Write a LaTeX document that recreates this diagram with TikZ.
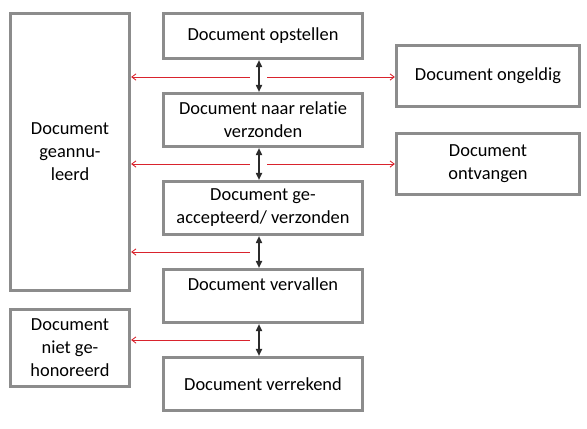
\documentclass[tikz,border=0pt]{standalone}
\usepackage{fontspec}
\setmainfont{Carlito}[Ligatures=NoCommon]
\usepackage{tikz}
\usetikzlibrary{positioning,arrows.meta,calc}
\definecolor{rim}{HTML}{8C8C8C}
\definecolor{lnk}{HTML}{D9232D}
\definecolor{ink}{HTML}{2B2B2B}
\tikzset{
  box/.style={draw=rim,line width=2.2pt,fill=white,inner sep=2pt,align=center,font=\fontsize{13.1}{16.3}\selectfont},
  dbl/.style={{Triangle[length=5pt,width=4.5pt]}-{Triangle[length=5pt,width=4.5pt]},line width=0.8pt,ink},
  rarr/.style={-{Straight Barb[length=3pt,width=4.5pt]},line width=0.6pt,lnk},
}
\begin{document}
\begin{tikzpicture}
\useasboundingbox (0,0) rectangle (14.675,-10.7);
% linker kolom
\node[box,minimum width=2.98cm,minimum height=6.93cm] (gean) at (1.75,-3.80) {Document\\geannu-\\leerd};
\node[box,minimum width=2.98cm,minimum height=1.93cm] (niet) at (1.75,-8.70) {Document\\niet ge-\\honoreerd};
% middelste kolom
\node[box,minimum width=4.98cm,minimum height=1.13cm] (opst) at (6.575,-0.90) {Document opstellen};
\node[box,minimum width=4.98cm,minimum height=1.33cm] (rel) at (6.575,-3.00) {Document naar relatie\\verzonden};
\node[box,minimum width=4.98cm,minimum height=1.33cm] (acc) at (6.575,-5.20) {Document ge-\\accepteerd/ verzonden};
\node[box,minimum width=4.98cm,minimum height=1.33cm] (verv) at (6.575,-7.40) {Document vervallen\\\mbox{}};
\node[box,minimum width=4.98cm,minimum height=1.33cm] (verr) at (6.575,-9.60) {Document verrekend};
% rechter kolom
\node[box,minimum width=4.58cm,minimum height=1.53cm] (ong) at (12.2,-1.90) {Document ongeldig};
\node[box,minimum width=4.58cm,minimum height=1.53cm] (ontv) at (12.2,-4.10) {Document\\ontvangen};
% overgangen
\coordinate (ax) at (6.475,0);
\draw[dbl] (ax |- opst.south) -- (ax |- rel.north);
\draw[dbl] (ax |- rel.south) -- (ax |- acc.north);
\draw[dbl] (ax |- acc.south) -- (ax |- verv.north);
\draw[dbl] (ax |- verv.south) -- (ax |- verr.north);
% uitstappen
\coordinate (l1) at (6.25,-1.925);
\coordinate (r1) at (6.675,-1.925);
\coordinate (l2) at (6.25,-4.10);
\coordinate (r2) at (6.675,-4.10);
\coordinate (l3) at (6.25,-6.30);
\coordinate (l4) at (6.25,-8.50);
\draw[rarr] (l1) -- (l1 -| gean.east);
\draw[rarr] (r1) -- (r1 -| ong.west);
\draw[rarr] (l2) -- (l2 -| gean.east);
\draw[rarr] (r2) -- (r2 -| ontv.west);
\draw[rarr] (l3) -- (l3 -| gean.east);
\draw[rarr] (l4) -- (l4 -| niet.east);
\end{tikzpicture}
\end{document}
